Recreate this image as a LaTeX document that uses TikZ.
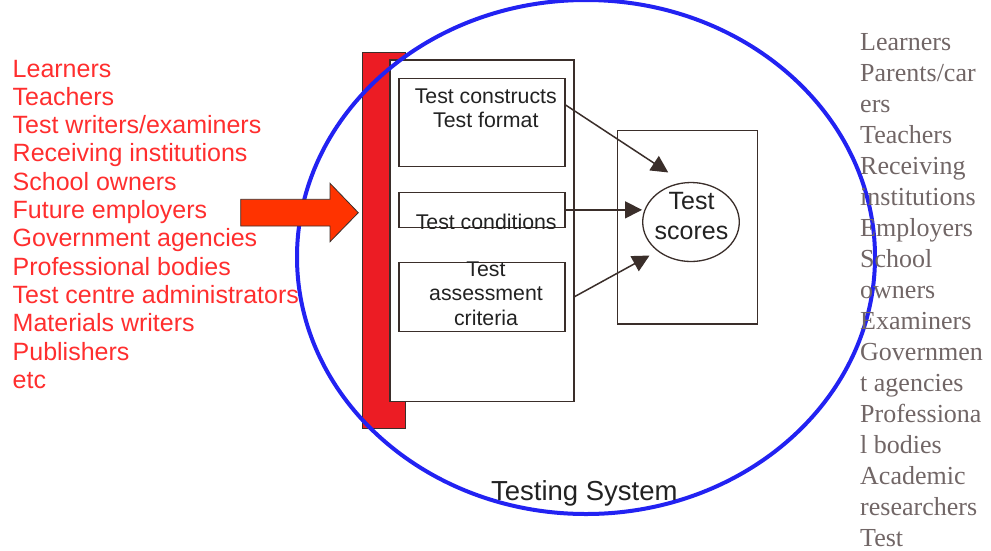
\documentclass[tikz,border=0pt]{standalone}
\usepackage{fontspec}
\setmainfont{Liberation Serif}
\setsansfont{Liberation Sans}
\usetikzlibrary{arrows.meta,positioning,shapes.geometric,calc}
\definecolor{ringblue}{HTML}{2222F2}
\definecolor{barred}{HTML}{EC1C24}
\definecolor{pushorange}{HTML}{FF3300}
\definecolor{listred}{HTML}{FF2E2E}
\definecolor{listgray}{HTML}{716666}
\definecolor{edgedark}{HTML}{3A2E2A}
\definecolor{inkdark}{HTML}{222222}

\tikzset{
  frame/.style={draw=edgedark,line width=1.3pt,fill=white,inner sep=0pt,anchor=north west},
  boxtext/.style={font=\sffamily\fontsize{21.3}{24.4}\selectfont,text=inkdark,align=center,inner sep=0pt},
  feed/.style={draw=edgedark,line width=1.5pt,-{Triangle[length=17pt,width=17pt]}},
  inlist/.style={font=\sffamily\fontsize{25}{28.3}\selectfont,text=listred,anchor=base west,inner sep=0pt},
  outlist/.style={font=\rmfamily\fontsize{26}{31.1}\selectfont,text=listgray,anchor=base west,inner sep=0pt},
}

\begin{document}
\begin{tikzpicture}[x=1pt,y=-1pt]
  \useasboundingbox (0,0) rectangle (991,550);

  % ---- Red wall and the testing system boxes -------------------
  \node[frame,draw=edgedark,fill=barred,line width=1pt,
        minimum width=43pt,minimum height=376.6pt] (wall) at (362,51.7) {};
  \node[frame,minimum width=184pt,minimum height=341.4pt] (core) at (389.3,59.3) {};
  \node[frame,minimum width=166pt,minimum height=88pt] (cons) at (398.3,77.7) {};
  \node[frame,minimum width=166pt,minimum height=35pt] (cond) at (398.3,191.7) {};
  \node[frame,minimum width=166pt,minimum height=69.3pt] (crit) at (398.3,261.7) {};
  \node[frame,minimum width=140pt,minimum height=193.3pt] (out) at (616.7,130) {};
  \node[frame,ellipse,anchor=center,
        minimum width=96.6pt,minimum height=79pt] (score) at (691,222) {};

  % ---- Blue ring round the whole system ------------------------
  \node[draw=ringblue,line width=4pt,ellipse,inner sep=0pt,
        minimum width=578pt,minimum height=514pt] (ring) at (586,257) {};

  % Box texts (clipped where the boxes cut them)
  \node[boxtext] (consl) at (485.8,108.5) {Test constructs\\Test format};
  \begin{scope}
    \clip (cond.south west) rectangle (cond.north east);
    \node[boxtext,anchor=base] (condl) at (486.2,229.5) {Test conditions};
  \end{scope}
  \begin{scope}
    \clip (crit.south west) rectangle (crit.north east);
    \node[boxtext] (critl) at (486,293.4) {Test\\assessment\\criteria};
  \end{scope}
  \node[boxtext,font=\sffamily\fontsize{25}{30}\selectfont] (scorel)
    at (691.5,216.5) {Test\\scores};
  \node[boxtext,font=\sffamily\fontsize{27.5}{30}\selectfont,anchor=base] (ringl)
    at (584.3,500) {Testing System};

  % ---- Arrows into the scores ----------------------------------
  \draw[feed,shorten >=18pt] ([yshift=-27.3pt]cons.north east) -- (score.101);
  \draw[feed] (cond.east) -- (cond.east -| score.west);
  \draw[feed,shorten >=9pt] ([yshift=-66pt]core.east) -- (score.221);

  % ---- Orange push arrow ---------------------------------------
  \draw[draw=edgedark,fill=pushorange,line width=0.8pt]
    (240.7,199.3) -- (330,199.3) -- (330,183.3) -- (358.3,212.7)
    -- (330,241.7) -- (330,226) -- (240.7,226) -- cycle;

  % ---- Stakeholders (left, red) --------------------------------
  \foreach \who [count=\i from 0] in {Learners,Teachers,Test writers/examiners,
      Receiving institutions,School owners,Future employers,Government agencies,
      Professional bodies,Test centre administrators,Materials writers,Publishers,etc}
    \node[inlist] (in\i) at (12.5,{77+28.33*\i}) {\who};

  % ---- Stakeholders (right, grey) ------------------------------
  \foreach \who [count=\i from 0] in {Learners,Parents/car,ers,Teachers,Receiving,
      institutions,Employers,School,owners,Examiners,Governmen,t agencies,
      Professiona,l bodies,Academic,researchers,Test}
    \node[outlist] (out\i) at (860,{50+31*\i}) {\who};

\end{tikzpicture}
\end{document}
